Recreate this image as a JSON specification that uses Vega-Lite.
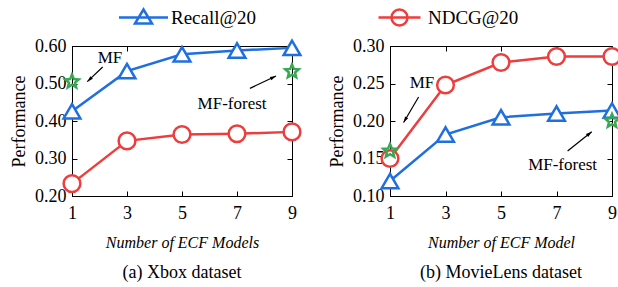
{
  "$schema": "https://vega.github.io/schema/vega-lite/v6.json",
  "padding": {"left": 10, "top": 5, "right": 0, "bottom": 0},
  "config": {
    "font": "Liberation Serif",
    "view": {"stroke": "black", "strokeWidth": 1},
    "axis": {"grid": false, "domainColor": "black", "tickColor": "black", "ticks": true, "tickWidth": 1, "labelFont": "Liberation Serif", "labelFontSize": 18, "labelColor": "black", "titleFont": "Liberation Serif", "titleFontSize": 18, "titleFontWeight": "normal", "titleColor": "black"}
  },
  "datasets": {
    "xbox": [
      {"metric": "Recall@20", "n": 1, "value": 0.426},
      {"metric": "Recall@20", "n": 3, "value": 0.533},
      {"metric": "Recall@20", "n": 5, "value": 0.578},
      {"metric": "Recall@20", "n": 7, "value": 0.588},
      {"metric": "Recall@20", "n": 9, "value": 0.595},
      {"metric": "NDCG@20", "n": 1, "value": 0.233},
      {"metric": "NDCG@20", "n": 3, "value": 0.347},
      {"metric": "NDCG@20", "n": 5, "value": 0.364},
      {"metric": "NDCG@20", "n": 7, "value": 0.366},
      {"metric": "NDCG@20", "n": 9, "value": 0.371}
    ],
    "xbox_stars": [
      {"model": "MF", "n": 1, "value": 0.505},
      {"model": "MF-forest", "n": 9, "value": 0.532}
    ],
    "xbox_text": [
      {"label": "MF", "x": 2.38, "y": 0.569},
      {"label": "MF-forest", "x": 6.82, "y": 0.445}
    ],
    "xbox_arrows": [
      {"arrow": "MF", "x": 2.116, "y": 0.544, "x2": 1.556, "y2": 0.505},
      {"arrow": "MF-forest", "x": 7.47, "y": 0.487, "x2": 8.42, "y2": 0.52}
    ],
    "ml": [
      {"metric": "Recall@20", "n": 1, "value": 0.12},
      {"metric": "Recall@20", "n": 3, "value": 0.182},
      {"metric": "Recall@20", "n": 5, "value": 0.205},
      {"metric": "Recall@20", "n": 7, "value": 0.21},
      {"metric": "Recall@20", "n": 9, "value": 0.214},
      {"metric": "NDCG@20", "n": 1, "value": 0.15},
      {"metric": "NDCG@20", "n": 3, "value": 0.248},
      {"metric": "NDCG@20", "n": 5, "value": 0.278},
      {"metric": "NDCG@20", "n": 7, "value": 0.286},
      {"metric": "NDCG@20", "n": 9, "value": 0.286}
    ],
    "ml_stars": [
      {"model": "MF", "n": 1, "value": 0.16},
      {"model": "MF-forest", "n": 9, "value": 0.2}
    ],
    "ml_text": [
      {"label": "MF", "x": 2.15, "y": 0.2507},
      {"label": "MF-forest", "x": 7.22, "y": 0.1413}
    ],
    "ml_arrows": [
      {"arrow": "MF", "x": 2.03, "y": 0.232, "x2": 1.49, "y2": 0.198},
      {"arrow": "MF-forest", "x": 7.4, "y": 0.16, "x2": 8.27, "y2": 0.1857}
    ]
  },
  "spacing": 22,
  "resolve": {"scale": {"x": "independent", "y": "independent", "color": "independent"}},
  "hconcat": [
    {
      "width": 220,
      "height": 150,
      "title": {"text": "(a) Xbox dataset", "orient": "bottom", "anchor": "middle", "frame": "group", "fontSize": 18, "fontWeight": "normal", "font": "Liberation Serif", "offset": 14, "color": "black"},
      "resolve": {"scale": {"x": "independent", "y": "independent"}},
      "layer": [
        {
          "layer": [
            {
              "data": {"name": "xbox"},
              "mark": {"type": "line", "strokeWidth": 2.5, "clip": false},
              "encoding": {
                "x": {"field": "n", "type": "quantitative", "scale": {"domain": [1, 9], "nice": false}, "axis": {"values": [1, 3, 5, 7, 9], "tickCount": 10, "tickSize": -5, "labelOverlap": false, "labelBound": false, "labelFlush": false, "title": "Number of ECF Models", "titleFontStyle": "italic", "titleFontSize": 16, "labelPadding": 13, "titlePadding": 12}},
                "y": {"field": "value", "type": "quantitative", "scale": {"domain": [0.2, 0.6], "nice": false, "zero": false}, "axis": {"values": [0.2, 0.3, 0.4, 0.5, 0.6], "tickCount": 10, "tickSize": -5, "labelOverlap": false, "labelBound": false, "labelFlush": false, "format": ".2f", "title": "Performance", "labelPadding": 11, "titlePadding": 6}},
                "color": {"field": "metric", "type": "nominal", "scale": {"domain": ["Recall@20", "NDCG@20"], "range": ["#1f6fdf", "#ee3d3d"]},
                  "legend": {"values": ["Recall@20"], "orient": "none", "legendX": 60, "legendY": -40, "title": null, "symbolType": "M-2.45,0L2.45,0M0,-0.8L0.85,0.6L-0.85,0.6Z", "symbolSize": 400, "symbolStrokeWidth": 2.5, "symbolFillColor": "transparent", "labelFont": "Liberation Serif", "labelFontSize": 19, "labelOffset": 16, "labelColor": "black"}}
              }
            },
            {
              "data": {"name": "xbox"},
              "transform": [{"filter": "datum.metric === 'Recall@20'"}],
              "mark": {"type": "point", "shape": "triangle-up", "filled": true, "fill": "white", "stroke": "#1f6fdf", "size": 280, "strokeWidth": 2.5, "opacity": 1},
              "encoding": {"x": {"field": "n", "type": "quantitative"}, "y": {"field": "value", "type": "quantitative"}}
            },
            {
              "data": {"name": "xbox"},
              "transform": [{"filter": "datum.metric === 'NDCG@20'"}],
              "mark": {"type": "point", "shape": "circle", "filled": true, "fill": "white", "stroke": "#ee3d3d", "size": 280, "strokeWidth": 2.5, "opacity": 1},
              "encoding": {"x": {"field": "n", "type": "quantitative"}, "y": {"field": "value", "type": "quantitative"}}
            },
            {
              "data": {"name": "xbox_stars"},
              "mark": {"type": "point", "filled": false, "shape": "M0,-1L0.265,-0.364L0.951,-0.309L0.428,0.139L0.588,0.809L0,0.45L-0.588,0.809L-0.428,0.139L-0.951,-0.309L-0.265,-0.364Z", "size": 200, "strokeWidth": 2.5, "color": "#38a852", "opacity": 1},
              "encoding": {"x": {"field": "n", "type": "quantitative"}, "y": {"field": "value", "type": "quantitative"}}
            },
            {
              "data": {"name": "xbox_arrows"},
              "mark": {"type": "rule", "color": "black", "strokeWidth": 1.2},
              "encoding": {"x": {"field": "x", "type": "quantitative"}, "y": {"field": "y", "type": "quantitative"}, "x2": {"field": "x2"}, "y2": {"field": "y2"}}
            },
            {
              "data": {"name": "xbox_arrows"},
              "transform": [{"filter": "datum.arrow === 'MF'"}],
              "mark": {"type": "point", "filled": true, "color": "black", "opacity": 1, "shape": "M0,0L0.45,1.5L-0.45,1.5Z", "size": 64, "angle": 226},
              "encoding": {"x": {"field": "x2", "type": "quantitative"}, "y": {"field": "y2", "type": "quantitative"}}
            },
            {
              "data": {"name": "xbox_arrows"},
              "transform": [{"filter": "datum.arrow === 'MF-forest'"}],
              "mark": {"type": "point", "filled": true, "color": "black", "opacity": 1, "shape": "M0,0L0.45,1.5L-0.45,1.5Z", "size": 64, "angle": 65},
              "encoding": {"x": {"field": "x2", "type": "quantitative"}, "y": {"field": "y2", "type": "quantitative"}}
            },
            {
              "data": {"name": "xbox_text"},
              "mark": {"type": "text", "font": "Liberation Serif", "fontSize": 17, "color": "black", "align": "center", "baseline": "middle"},
              "encoding": {"x": {"field": "x", "type": "quantitative"}, "y": {"field": "y", "type": "quantitative"}, "text": {"field": "label"}}
            }
          ]
        },
        {
          "data": {"name": "xbox"},
          "mark": {"type": "point", "opacity": 0},
          "encoding": {
            "x": {"field": "n", "type": "quantitative", "scale": {"domain": [1, 9], "nice": false}, "axis": {"orient": "top", "values": [1, 3, 5, 7, 9], "tickCount": 10, "tickSize": -5, "labels": false, "domain": false, "title": null}},
            "y": {"field": "value", "type": "quantitative", "scale": {"domain": [0.2, 0.6], "nice": false, "zero": false}, "axis": {"orient": "right", "values": [0.2, 0.3, 0.4, 0.5, 0.6], "tickCount": 10, "tickSize": -5, "labels": false, "domain": false, "title": null}}
          }
        }
      ]
    },
    {
      "width": 222,
      "height": 150,
      "title": {"text": "(b) MovieLens dataset", "orient": "bottom", "anchor": "middle", "frame": "group", "fontSize": 18, "fontWeight": "normal", "font": "Liberation Serif", "offset": 14, "color": "black"},
      "resolve": {"scale": {"x": "independent", "y": "independent"}},
      "layer": [
        {
          "layer": [
            {
              "data": {"name": "ml"},
              "mark": {"type": "line", "strokeWidth": 2.5, "clip": false},
              "encoding": {
                "x": {"field": "n", "type": "quantitative", "scale": {"domain": [1, 9], "nice": false}, "axis": {"values": [1, 3, 5, 7, 9], "tickCount": 10, "tickSize": -5, "labelOverlap": false, "labelBound": false, "labelFlush": false, "title": "Number of ECF Model", "titleFontStyle": "italic", "titleFontSize": 16, "labelPadding": 13, "titlePadding": 12}},
                "y": {"field": "value", "type": "quantitative", "scale": {"domain": [0.1, 0.3], "nice": false, "zero": false}, "axis": {"values": [0.1, 0.15, 0.2, 0.25, 0.3], "tickCount": 10, "tickSize": -5, "labelOverlap": false, "labelBound": false, "labelFlush": false, "format": ".2f", "title": "Performance", "labelPadding": 11, "titlePadding": 6}},
                "color": {"field": "metric", "type": "nominal", "scale": {"domain": ["Recall@20", "NDCG@20"], "range": ["#1f6fdf", "#ee3d3d"]},
                  "legend": {"values": ["NDCG@20"], "orient": "none", "legendX": -2, "legendY": -40, "title": null, "symbolType": "M-2.1,0L2.1,0M0.8,0A0.8,0.8 0 1 1 -0.8,0A0.8,0.8 0 1 1 0.8,0Z", "symbolSize": 400, "symbolStrokeWidth": 2.5, "symbolFillColor": "transparent", "labelFont": "Liberation Serif", "labelFontSize": 19, "labelOffset": 17, "labelColor": "black"}}
              }
            },
            {
              "data": {"name": "ml"},
              "transform": [{"filter": "datum.metric === 'Recall@20'"}],
              "mark": {"type": "point", "shape": "triangle-up", "filled": true, "fill": "white", "stroke": "#1f6fdf", "size": 280, "strokeWidth": 2.5, "opacity": 1},
              "encoding": {"x": {"field": "n", "type": "quantitative"}, "y": {"field": "value", "type": "quantitative"}}
            },
            {
              "data": {"name": "ml"},
              "transform": [{"filter": "datum.metric === 'NDCG@20'"}],
              "mark": {"type": "point", "shape": "circle", "filled": true, "fill": "white", "stroke": "#ee3d3d", "size": 280, "strokeWidth": 2.5, "opacity": 1},
              "encoding": {"x": {"field": "n", "type": "quantitative"}, "y": {"field": "value", "type": "quantitative"}}
            },
            {
              "data": {"name": "ml_stars"},
              "mark": {"type": "point", "filled": false, "shape": "M0,-1L0.265,-0.364L0.951,-0.309L0.428,0.139L0.588,0.809L0,0.45L-0.588,0.809L-0.428,0.139L-0.951,-0.309L-0.265,-0.364Z", "size": 200, "strokeWidth": 2.5, "color": "#38a852", "opacity": 1},
              "encoding": {"x": {"field": "n", "type": "quantitative"}, "y": {"field": "value", "type": "quantitative"}}
            },
            {
              "data": {"name": "ml_arrows"},
              "mark": {"type": "rule", "color": "black", "strokeWidth": 1.2},
              "encoding": {"x": {"field": "x", "type": "quantitative"}, "y": {"field": "y", "type": "quantitative"}, "x2": {"field": "x2"}, "y2": {"field": "y2"}}
            },
            {
              "data": {"name": "ml_arrows"},
              "transform": [{"filter": "datum.arrow === 'MF'"}],
              "mark": {"type": "point", "filled": true, "color": "black", "opacity": 1, "shape": "M0,0L0.45,1.5L-0.45,1.5Z", "size": 64, "angle": 210},
              "encoding": {"x": {"field": "x2", "type": "quantitative"}, "y": {"field": "y2", "type": "quantitative"}}
            },
            {
              "data": {"name": "ml_arrows"},
              "transform": [{"filter": "datum.arrow === 'MF-forest'"}],
              "mark": {"type": "point", "filled": true, "color": "black", "opacity": 1, "shape": "M0,0L0.45,1.5L-0.45,1.5Z", "size": 64, "angle": 51},
              "encoding": {"x": {"field": "x2", "type": "quantitative"}, "y": {"field": "y2", "type": "quantitative"}}
            },
            {
              "data": {"name": "ml_text"},
              "mark": {"type": "text", "font": "Liberation Serif", "fontSize": 17, "color": "black", "align": "center", "baseline": "middle"},
              "encoding": {"x": {"field": "x", "type": "quantitative"}, "y": {"field": "y", "type": "quantitative"}, "text": {"field": "label"}}
            }
          ]
        },
        {
          "data": {"name": "ml"},
          "mark": {"type": "point", "opacity": 0},
          "encoding": {
            "x": {"field": "n", "type": "quantitative", "scale": {"domain": [1, 9], "nice": false}, "axis": {"orient": "top", "values": [1, 3, 5, 7, 9], "tickCount": 10, "tickSize": -5, "labels": false, "domain": false, "title": null}},
            "y": {"field": "value", "type": "quantitative", "scale": {"domain": [0.1, 0.3], "nice": false, "zero": false}, "axis": {"orient": "right", "values": [0.1, 0.15, 0.2, 0.25, 0.3], "tickCount": 10, "tickSize": -5, "labels": false, "domain": false, "title": null}}
          }
        }
      ]
    }
  ]
}
